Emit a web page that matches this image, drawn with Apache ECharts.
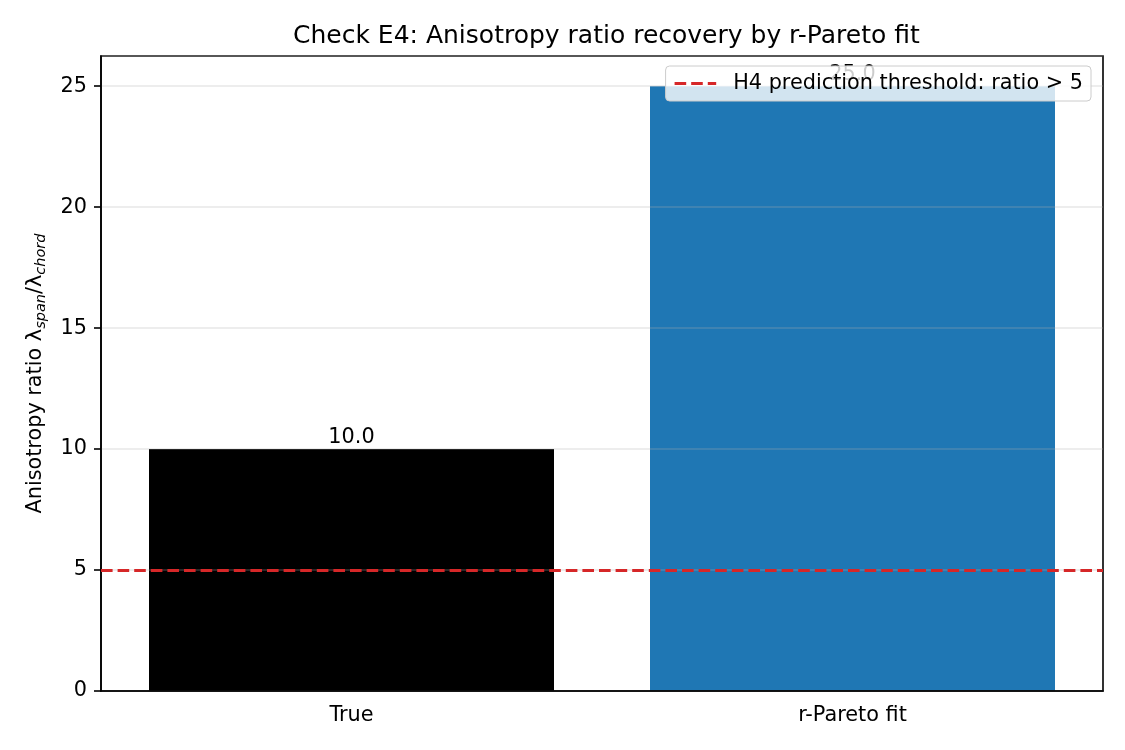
<!DOCTYPE html>
<html>
<head>
    <meta charset="UTF-8">
    <title>Check E4</title>
    <script src="https://cdn.jsdelivr.net/npm/echarts@6/dist/echarts.min.js"></script>
    <style>
        body { margin: 0; background: #fff; }
    </style>
</head>
<body>
    <div id="chart" style="width:1125px; height:750px;"></div>
    <script>
        // values
        var categories = ['True', 'r-Pareto fit'];
        var ratios = [10.0, 25.0];
        var barColors = ['#000000', '#1f77b4'];
        var threshold = 5;
        var thresholdName = 'H4 prediction threshold: ratio > 5';

        var font = 'DejaVu Sans';
        var fs = 20.8;
        var chart = echarts.init(document.getElementById('chart'), null, {renderer: 'canvas'});

        var barData = categories.map(function (c, i) {
            return {value: ratios[i], itemStyle: {color: barColors[i]}};
        });

        chart.setOption({
            animation: false,
            backgroundColor: '#ffffff',
            textStyle: {fontFamily: font, color: '#000'},
            title: {
                text: 'Check E4: Anisotropy ratio recovery by r-Pareto fit',
                left: 288,
                top: 19,
                textStyle: {fontFamily: font, fontSize: 25, fontWeight: 'normal', color: '#000'}
            },
            grid: {
                left: 101, right: 22, top: 56, bottom: 59,
                show: true, borderColor: '#000', borderWidth: 1.6
            },
            legend: {
                data: [{
                    name: thresholdName,
                    icon: 'path://M0,0h11.6v3.1h-11.6z M16.6,0h11.6v3.1h-11.6z M33.2,0h8.4v3.1h-8.4z',
                    itemStyle: {color: '#d62728'}
                }],
                right: 34,
                top: 66,
                itemWidth: 41.6,
                itemHeight: 3.1,
                padding: [7, 8, 7, 9],
                backgroundColor: 'rgba(255,255,255,0.8)',
                borderColor: '#cccccc',
                borderWidth: 1,
                borderRadius: 4,
                textStyle: {fontFamily: font, fontSize: fs, color: '#000', padding: [0, 0, 0, 12]}
            },
            xAxis: {
                type: 'category',
                data: categories,
                axisLine: {lineStyle: {color: '#000', width: 1.6}},
                axisTick: {alignWithLabel: true, length: 7, lineStyle: {color: '#000', width: 1.6}},
                axisLabel: {fontFamily: font, fontSize: fs, color: '#000', margin: 14},
                splitLine: {show: false}
            },
            yAxis: {
                type: 'value',
                min: 0,
                max: 26.25,
                interval: 5,
                name: '{m|Anisotropy ratio λ}{s|span}{m|/λ}{s|chord}',
                nameLocation: 'middle',
                nameGap: 52,
                nameRotate: 90,
                nameTextStyle: {
                    rich: {
                        m: {fontFamily: font, fontSize: fs, color: '#000', lineHeight: 26},
                        s: {fontFamily: font, fontSize: 14.5, fontStyle: 'italic', color: '#000', padding: [10, 0, 0, 0]}
                    }
                },
                axisLine: {show: true, lineStyle: {color: '#000', width: 1.6}},
                axisTick: {show: true, length: 7, lineStyle: {color: '#000', width: 1.6}},
                axisLabel: {
                    fontFamily: font, fontSize: fs, color: '#000', margin: 14,
                    showMaxLabel: false
                },
                splitLine: {show: true, lineStyle: {color: 'rgba(176,176,176,0.3)', width: 1.6}}
            },
            series: [
                {
                    type: 'bar',
                    data: barData,
                    barWidth: 405,
                    z: -1,
                    label: {
                        show: true,
                        position: 'top',
                        distance: 1,
                        fontFamily: font,
                        fontSize: fs,
                        color: '#000',
                        formatter: function (p) { return p.value.toFixed(1); }
                    }
                },
                {
                    name: thresholdName,
                    type: 'line',
                    data: [],
                    z: 3,
                    color: '#d62728',
                    markLine: {
                        silent: true,
                        symbol: ['none', 'none'],
                        label: {show: false},
                        lineStyle: {color: '#d62728', type: [11.6, 5], width: 3.1},
                        data: [{yAxis: threshold}]
                    }
                }
            ]
        });
    </script>
</body>
</html>
